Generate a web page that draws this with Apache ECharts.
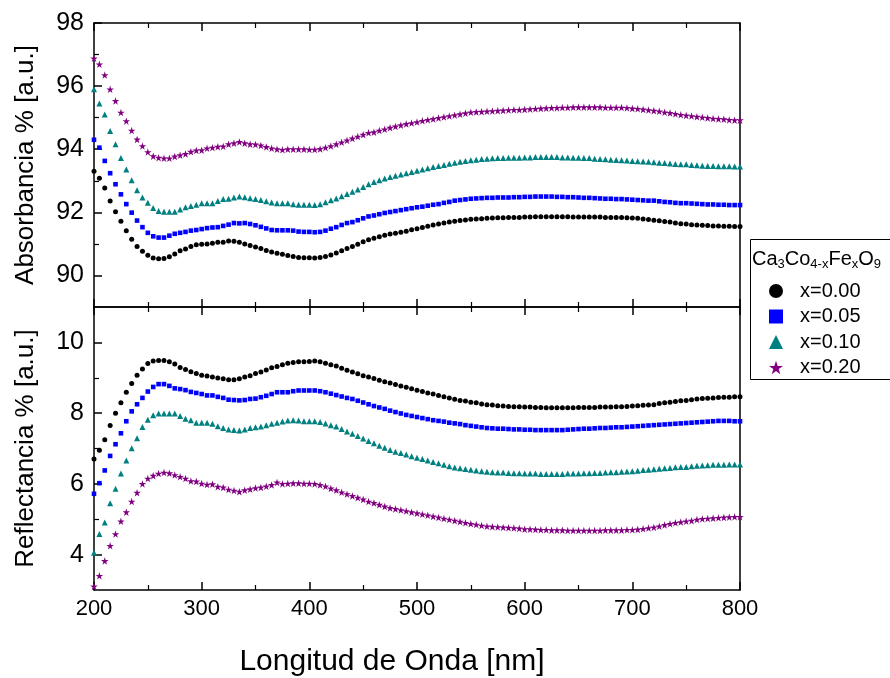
<!DOCTYPE html>
<html>
<head>
<meta charset="utf-8">
<script src="https://cdn.jsdelivr.net/npm/echarts@6/dist/echarts.min.js"></script>
<style>
html,body{margin:0;padding:0;background:#fff;}
#chart{width:890px;height:678px;}
</style>
</head>
<body>
<div id="chart"></div>
<script>
// Wavelength sampling grid (nm)
const wavelength = [];
for (let w = 200; w <= 800; w += 5) wavelength.push(w);

const seriesNames = ['x=0.00', 'x=0.05', 'x=0.10', 'x=0.20'];

// Absorbancia % [a.u.]
const absX000 = [
93.30,93.08,92.77,92.36,92.02,91.72,91.42,91.15,90.92,90.77,
90.64,90.55,90.53,90.54,90.59,90.68,90.78,90.84,90.92,90.97,
90.99,91.00,91.02,91.05,91.05,91.09,91.08,91.05,91.00,90.95,
90.90,90.85,90.79,90.74,90.70,90.67,90.63,90.60,90.57,90.56,
90.56,90.55,90.57,90.60,90.65,90.71,90.78,90.85,90.92,90.99,
91.07,91.13,91.18,91.23,91.27,91.31,91.34,91.37,91.40,91.45,
91.48,91.52,91.56,91.60,91.63,91.66,91.69,91.72,91.74,91.76,
91.78,91.79,91.80,91.81,91.82,91.83,91.83,91.84,91.84,91.84,
91.85,91.85,91.86,91.86,91.86,91.86,91.86,91.86,91.86,91.85,
91.85,91.85,91.85,91.85,91.85,91.84,91.84,91.84,91.84,91.83,
91.82,91.81,91.79,91.77,91.75,91.73,91.71,91.69,91.66,91.64,
91.63,91.61,91.60,91.59,91.58,91.57,91.57,91.56,91.56,91.55,
91.55];
const absX005 = [
94.30,94.05,93.63,93.24,92.89,92.57,92.26,91.99,91.74,91.53,
91.35,91.24,91.20,91.20,91.26,91.32,91.35,91.38,91.42,91.44,
91.47,91.50,91.52,91.53,91.57,91.61,91.66,91.65,91.66,91.63,
91.59,91.54,91.49,91.44,91.43,91.43,91.43,91.42,91.39,91.38,
91.38,91.37,91.38,91.42,91.48,91.53,91.60,91.66,91.69,91.75,
91.81,91.87,91.90,91.94,91.98,92.01,92.04,92.07,92.10,92.13,
92.16,92.18,92.21,92.24,92.26,92.30,92.33,92.37,92.39,92.41,
92.43,92.44,92.45,92.46,92.46,92.47,92.47,92.47,92.48,92.48,
92.49,92.49,92.50,92.50,92.50,92.50,92.49,92.49,92.48,92.48,
92.47,92.46,92.46,92.45,92.44,92.43,92.43,92.42,92.42,92.41,
92.40,92.39,92.38,92.37,92.37,92.35,92.33,92.32,92.30,92.29,
92.29,92.28,92.27,92.26,92.25,92.25,92.24,92.24,92.23,92.23,
92.23];
const absX010 = [
95.90,95.45,95.10,94.58,94.16,93.72,93.36,93.02,92.70,92.47,
92.30,92.14,92.04,92.02,92.02,92.02,92.09,92.16,92.20,92.24,
92.29,92.29,92.29,92.36,92.42,92.43,92.47,92.50,92.48,92.45,
92.42,92.39,92.35,92.31,92.29,92.29,92.29,92.26,92.24,92.24,
92.24,92.23,92.26,92.32,92.38,92.44,92.51,92.58,92.65,92.72,
92.80,92.89,92.96,93.02,93.07,93.12,93.16,93.20,93.24,93.28,
93.32,93.36,93.40,93.44,93.47,93.50,93.54,93.57,93.60,93.63,
93.65,93.67,93.69,93.70,93.71,93.72,93.72,93.73,93.73,93.73,
93.74,93.74,93.75,93.75,93.75,93.75,93.75,93.74,93.74,93.73,
93.73,93.72,93.72,93.70,93.69,93.68,93.67,93.66,93.65,93.64,
93.63,93.62,93.61,93.60,93.59,93.57,93.56,93.55,93.53,93.52,
93.52,93.50,93.49,93.48,93.47,93.47,93.46,93.46,93.46,93.45,
93.45];
const absX020 = [
96.88,96.69,96.35,95.90,95.53,95.16,94.89,94.59,94.31,94.10,
93.91,93.78,93.73,93.71,93.71,93.77,93.81,93.85,93.92,93.96,
93.97,94.03,94.05,94.08,94.09,94.16,94.19,94.23,94.19,94.16,
94.15,94.12,94.07,94.03,94.00,93.98,94.00,94.00,94.00,94.00,
93.99,93.99,94.01,94.05,94.10,94.16,94.22,94.28,94.34,94.40,
94.46,94.52,94.54,94.59,94.63,94.68,94.72,94.76,94.80,94.83,
94.86,94.90,94.93,94.96,94.99,95.02,95.05,95.08,95.11,95.14,
95.17,95.18,95.19,95.20,95.21,95.22,95.23,95.24,95.25,95.25,
95.26,95.27,95.28,95.29,95.30,95.31,95.31,95.32,95.32,95.33,
95.33,95.33,95.33,95.33,95.33,95.32,95.32,95.32,95.32,95.31,
95.29,95.28,95.26,95.24,95.22,95.20,95.17,95.15,95.12,95.09,
95.07,95.05,95.03,95.01,94.99,94.97,94.96,94.95,94.93,94.92,
94.92];

// Reflectancia % [a.u.]
const refX000 = [
6.70,6.95,7.25,7.65,8.00,8.29,8.59,8.84,9.07,9.25,
9.40,9.47,9.49,9.49,9.45,9.39,9.29,9.23,9.17,9.12,
9.07,9.05,9.02,8.99,8.97,8.94,8.94,8.97,9.02,9.06,
9.12,9.16,9.22,9.28,9.32,9.37,9.41,9.43,9.45,9.45,
9.46,9.47,9.45,9.41,9.37,9.33,9.27,9.21,9.16,9.11,
9.06,9.02,8.98,8.93,8.89,8.85,8.81,8.77,8.73,8.69,
8.65,8.61,8.57,8.54,8.50,8.46,8.43,8.39,8.36,8.34,
8.31,8.29,8.26,8.24,8.23,8.21,8.20,8.19,8.18,8.18,
8.17,8.17,8.16,8.16,8.15,8.15,8.15,8.15,8.15,8.15,
8.16,8.16,8.16,8.16,8.17,8.17,8.17,8.18,8.18,8.19,
8.20,8.21,8.22,8.23,8.24,8.27,8.29,8.31,8.33,8.35,
8.36,8.38,8.40,8.41,8.42,8.43,8.44,8.45,8.45,8.46,
8.46];
const refX005 = [
5.72,6.02,6.38,6.79,7.12,7.43,7.77,8.05,8.25,8.43,
8.61,8.74,8.82,8.82,8.77,8.70,8.68,8.65,8.60,8.57,
8.54,8.50,8.50,8.46,8.43,8.38,8.37,8.36,8.37,8.40,
8.41,8.45,8.49,8.54,8.59,8.59,8.59,8.62,8.64,8.64,
8.64,8.64,8.62,8.59,8.55,8.51,8.47,8.43,8.40,8.35,
8.30,8.25,8.20,8.16,8.12,8.07,8.03,7.99,7.95,7.92,
7.89,7.86,7.83,7.80,7.78,7.76,7.73,7.71,7.69,7.66,
7.64,7.62,7.60,7.58,7.57,7.56,7.56,7.55,7.54,7.54,
7.53,7.53,7.52,7.52,7.52,7.52,7.52,7.52,7.53,7.54,
7.55,7.56,7.56,7.57,7.58,7.58,7.59,7.60,7.60,7.61,
7.62,7.63,7.64,7.65,7.66,7.67,7.68,7.69,7.70,7.71,
7.72,7.73,7.74,7.75,7.76,7.77,7.78,7.78,7.78,7.77,
7.77];
const refX010 = [
4.05,4.58,4.91,5.45,5.86,6.29,6.66,7.01,7.29,7.61,
7.81,7.94,7.99,7.99,7.99,7.99,7.92,7.84,7.80,7.73,
7.73,7.73,7.70,7.63,7.58,7.54,7.52,7.51,7.54,7.58,
7.60,7.62,7.66,7.70,7.73,7.76,7.79,7.80,7.79,7.77,
7.77,7.77,7.75,7.71,7.66,7.62,7.55,7.48,7.42,7.35,
7.28,7.21,7.15,7.08,7.02,6.96,6.91,6.87,6.83,6.78,
6.74,6.70,6.66,6.62,6.58,6.54,6.50,6.46,6.44,6.42,
6.40,6.38,6.36,6.34,6.33,6.32,6.32,6.31,6.30,6.30,
6.29,6.29,6.29,6.28,6.28,6.28,6.28,6.28,6.29,6.29,
6.29,6.30,6.30,6.31,6.31,6.32,6.33,6.33,6.34,6.35,
6.36,6.37,6.39,6.40,6.41,6.43,6.44,6.45,6.47,6.48,
6.48,6.50,6.51,6.52,6.53,6.54,6.54,6.54,6.55,6.55,
6.55];
const refX020 = [
3.10,3.40,3.82,4.25,4.58,4.94,5.20,5.50,5.75,6.00,
6.15,6.23,6.29,6.32,6.30,6.25,6.20,6.15,6.08,6.07,
6.01,5.98,5.99,5.92,5.90,5.84,5.81,5.78,5.82,5.85,
5.88,5.90,5.93,5.97,6.04,6.00,6.01,6.02,6.02,6.01,
6.01,6.00,5.97,5.93,5.87,5.82,5.76,5.71,5.66,5.61,
5.56,5.50,5.46,5.41,5.36,5.32,5.29,5.26,5.23,5.20,
5.17,5.14,5.11,5.08,5.05,5.02,4.99,4.96,4.93,4.90,
4.87,4.85,4.82,4.80,4.79,4.78,4.77,4.76,4.75,4.74,
4.72,4.72,4.71,4.70,4.70,4.69,4.69,4.69,4.68,4.68,
4.68,4.68,4.68,4.68,4.68,4.69,4.69,4.69,4.69,4.70,
4.70,4.71,4.73,4.75,4.77,4.80,4.84,4.87,4.90,4.92,
4.94,4.96,4.99,5.01,5.02,5.03,5.04,5.05,5.06,5.07,
5.07];

// Axis ticks
const xTicks = [200, 300, 400, 500, 600, 700, 800];
const absMajor = [90, 92, 94, 96, 98];
const absMinor = [91, 93, 95, 97];
const refMajor = [4, 6, 8, 10];
const refMinor = [5, 7, 9];

const colors = ['#000000', '#0000ff', '#008080', '#800080'];
const STAR = 'path://M50,0 L61.2,34.5 L97.6,34.5 L68.2,55.9 L79.4,90.5 L50,69.1 L20.6,90.5 L31.8,55.9 L2.4,34.5 L38.8,34.5 Z';
const symbols = ['circle', 'rect', 'triangle', STAR];
const symbolSizes = [5, 4.6, 6, 7.5];

const FONT = '"Liberation Sans", Arial, sans-serif';
const AX = { lineStyle: { color: '#000', width: 1.5 } };

function zip(vals) { return wavelength.map((w, i) => [w, vals[i]]); }

const absData = [absX000, absX005, absX010, absX020];
const refData = [refX000, refX005, refX010, refX020];

function xAxisCfg(grid, pos, labels) {
  return {
    type: 'value', gridIndex: grid, position: pos, min: 200, max: 800, interval: 100,
    axisLine: { show: true, onZero: false, ...AX },
    axisTick: { show: true, inside: true, length: 8, lineStyle: { color: '#000', width: 1.5 } },
    minorTick: { show: true, splitNumber: 2, length: 5, lineStyle: { color: '#000', width: 1.2 } },
    axisLabel: { show: labels, color: '#000', fontSize: 22, fontFamily: FONT, margin: 8,
      customValues: xTicks },
    splitLine: { show: false },
    name: labels && grid === 1 ? 'Longitud de Onda [nm]' : '',
    nameLocation: 'middle', nameGap: 57,
    nameTextStyle: { color: '#000', fontSize: 30, fontFamily: FONT, padding: [0, 50, 0, 0] }
  };
}

function yMajor(grid, min, max, ticks, name) {
  return {
    type: 'value', gridIndex: grid, position: 'left', min: min, max: max,
    axisLine: { show: true, onZero: false, ...AX },
    axisTick: { show: true, inside: true, length: 8, customValues: ticks, lineStyle: { color: '#000', width: 1.5 } },
    axisLabel: { show: true, customValues: ticks, color: '#000', fontSize: 25, fontFamily: FONT, margin: 10 },
    splitLine: { show: false },
    name: name, nameLocation: 'middle', nameGap: 55, nameRotate: 90,
    nameTextStyle: { color: '#000', fontSize: 26, fontFamily: FONT }
  };
}
function yMinor(grid, min, max, ticks) {
  return {
    type: 'value', gridIndex: grid, position: 'left', min: min, max: max,
    axisLine: { show: false },
    axisTick: { show: true, inside: true, length: 5, customValues: ticks, lineStyle: { color: '#000', width: 1.2 } },
    axisLabel: { show: false, customValues: ticks },
    splitLine: { show: false }
  };
}
function yRight(grid, min, max) {
  return {
    type: 'value', gridIndex: grid, position: 'right', min: min, max: max,
    axisLine: { show: true, onZero: false, ...AX },
    axisTick: { show: false }, axisLabel: { show: false }, splitLine: { show: false }
  };
}

const series = [];
for (let k = 0; k < 4; k++) {
  series.push({
    name: seriesNames[k], type: 'scatter', xAxisIndex: 0, yAxisIndex: 0,
    data: zip(absData[k]), symbol: symbols[k], symbolSize: symbolSizes[k],
    itemStyle: { color: colors[k], opacity: 1 }, silent: true, z: 3 + k
  });
  series.push({
    name: seriesNames[k], type: 'scatter', xAxisIndex: 2, yAxisIndex: 3,
    data: zip(refData[k]), symbol: symbols[k], symbolSize: symbolSizes[k],
    itemStyle: { color: colors[k], opacity: 1 }, silent: true, z: 3 + k
  });
}

const chart = echarts.init(document.getElementById('chart'), null, { renderer: 'canvas' });
chart.setOption({
  backgroundColor: '#fff',
  animation: false,
  grid: [
    { left: 94, right: 150, top: 23, height: 284 },
    { left: 94, right: 150, top: 307, height: 285 }
  ],
  xAxis: [
    xAxisCfg(0, 'bottom', false),
    xAxisCfg(0, 'top', false),
    xAxisCfg(1, 'bottom', true),
    xAxisCfg(1, 'top', false)
  ],
  yAxis: [
    yMajor(0, 89, 98, absMajor, 'Absorbancia % [a.u.]'),
    yMinor(0, 89, 98, absMinor),
    yRight(0, 89, 98),
    yMajor(1, 3, 11, refMajor, 'Reflectancia % [a.u.]'),
    yMinor(1, 3, 11, refMinor),
    yRight(1, 3, 11)
  ],
  legend: {
    orient: 'vertical', left: 764, top: 276, itemWidth: 14, itemHeight: 14, itemGap: 5.5,
    selectedMode: false,
    textStyle: { color: '#000', fontSize: 20, fontFamily: FONT, padding: [0, 0, 0, 12] },
    data: seriesNames.map((n, i) => ({ name: n, icon: symbols[i], itemStyle: { color: colors[i] } }))
  },
  graphic: [
    { type: 'rect', left: 748, top: 237, shape: { width: 140, height: 140 },
      style: { fill: 'none', stroke: '#000', lineWidth: 1 }, z: 10 },
    { type: 'text', left: 752, top: 249, z: 11,
      style: {
        text: 'Ca{s|3}Co{s|4-x}Fe{s|x}O{s|9}',
        fontSize: 20, fontFamily: FONT, fill: '#000',
        rich: { s: { fontSize: 13, fontFamily: FONT, fill: '#000', padding: [10, 0, 0, 0] } }
      } }
  ],
  series: series
});
</script>
</body>
</html>
